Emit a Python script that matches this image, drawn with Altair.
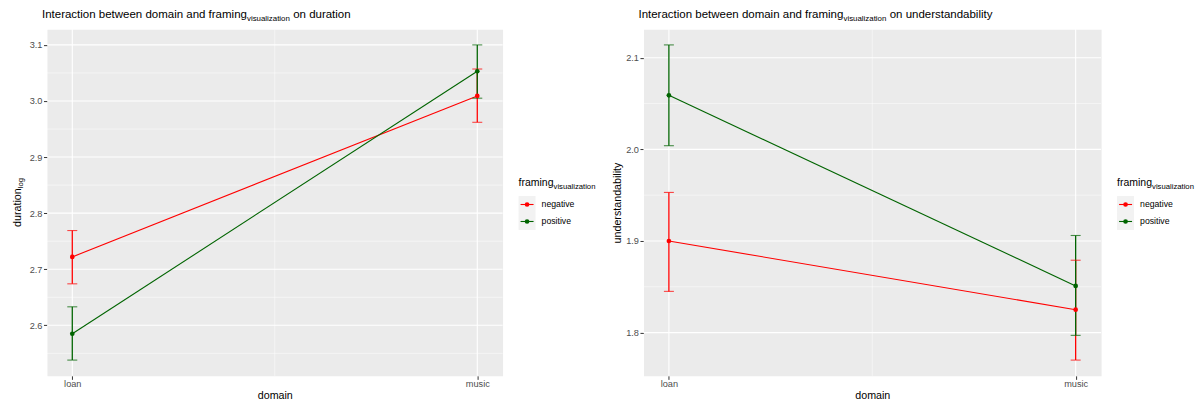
import altair as alt
import pandas as pd

# ---------------- data ----------------
domains = ["loan", "music"]
framings = ["negative", "positive"]
framing_colors = ["#FF0000", "#006400"]

dur_neg_mean = [2.722, 3.009]
dur_neg_low = [2.674, 2.962]
dur_neg_high = [2.769, 3.057]
dur_pos_mean = [2.585, 3.053]
dur_pos_low = [2.538, 3.005]
dur_pos_high = [2.633, 3.100]

und_neg_mean = [1.900, 1.825]
und_neg_low = [1.845, 1.770]
und_neg_high = [1.953, 1.879]
und_pos_mean = [2.059, 1.851]
und_pos_low = [2.004, 1.797]
und_pos_high = [2.114, 1.906]

dur_major = [2.6, 2.7, 2.8, 2.9, 3.0, 3.1]
dur_minor = [2.55, 2.65, 2.75, 2.85, 2.95, 3.05]
und_major = [1.8, 1.9, 2.0, 2.1]
und_minor = [1.85, 1.95, 2.05]
x_major = [1, 2]
x_minor = [1.5]

# ---------------- style ----------------
FONT = "Liberation Sans"
PANEL_H = 347
W1, W2 = 456, 458
TITLE_SIZE, SUB_TITLE = 11.5, 7.9
AX_TITLE, TICK_SIZE = 10.7, 9.2
LEG_TITLE, LEG_SUB, LEG_LABEL = 10.5, 7.7, 8.7

ARIAL = {" ": 278, "a": 556, "b": 556, "c": 500, "d": 556, "e": 556, "f": 278,
         "g": 556, "h": 556, "i": 222, "j": 222, "k": 500, "l": 222, "m": 833,
         "n": 556, "o": 556, "p": 556, "q": 556, "r": 333, "s": 500, "t": 278,
         "u": 556, "v": 500, "w": 722, "x": 500, "y": 500, "z": 500, "I": 278}


def tw(s, size):
    return sum(ARIAL.get(c, 556) for c in s) / 1000.0 * size


def txt(s, size, x, y, angle=0):
    kw = dict(align="left", baseline="alphabetic", font=FONT, fontSize=size,
              color="black", x=x, y=y)
    if angle:
        kw["angle"] = angle
    return alt.Chart(pd.DataFrame({"t": [s]})).mark_text(**kw).encode(text="t:N")


def sub_text(main, sub, size, subsize, x, y, tail=None, dy=3.0):
    layers = [txt(main, size, x, y)]
    x2 = x + tw(main, size)
    layers.append(txt(sub, subsize, x2, y + dy))
    if tail:
        x3 = x2 + tw(sub, subsize) + tw(" ", size)
        layers.append(txt(tail, size, x3, y))
    return layers


color = alt.Color("framing:N", scale=alt.Scale(domain=framings, range=framing_colors),
                  legend=None)

label_expr = "[" + ",".join("'%s'" % d for d in domains) + "][datum.value - 1]"


def axis_common(**kw):
    base = dict(grid=False, domain=False, tickColor="#333333", tickSize=3.5, tickWidth=1,
                labelColor="#4D4D4D", labelFontSize=TICK_SIZE, labelFont=FONT,
                titleFontSize=AX_TITLE, titleFont=FONT, titleFontWeight="normal",
                titleColor="black")
    base.update(kw)
    return alt.Axis(**base)


def panel(neg, pos, ymajor, yminor, tail, width, ytitle):
    rows = []
    for f, (m, lo, hi) in zip(framings, [neg, pos]):
        for i, d in enumerate(domains):
            rows.append(dict(domain=d, xpos=i + 1, framing=f, mean=m[i], low=lo[i], high=hi[i]))
    df = pd.DataFrame(rows)
    lo_all = min(df["low"])
    hi_all = max(df["high"])
    ext = (hi_all - lo_all) * 0.05
    yscale = alt.Scale(domain=[lo_all - ext, hi_all + ext], nice=False, zero=False)
    xscale = alt.Scale(domain=[0.9375, 2.0625], nice=False, zero=False)

    xaxis = axis_common(values=x_major, labelExpr=label_expr, title="domain",
                        labelPadding=0.5, titlePadding=1.8)
    yaxis = axis_common(values=ymajor, format=".1f", title=ytitle if ytitle else "",
                        labelPadding=1.5, titlePadding=3)

    def X(f):
        return alt.X(f, scale=xscale, axis=xaxis)

    def Y(f):
        return alt.Y(f, scale=yscale, axis=yaxis)

    hmaj = alt.Chart(pd.DataFrame({"v": ymajor})).mark_rule(color="white", strokeWidth=1.1).encode(y=Y("v:Q"))
    hmin = alt.Chart(pd.DataFrame({"v": yminor})).mark_rule(color="white", strokeWidth=0.5).encode(y=Y("v:Q"))
    vmaj = alt.Chart(pd.DataFrame({"v": x_major})).mark_rule(color="white", strokeWidth=1.1).encode(x=X("v:Q"))
    vmin = alt.Chart(pd.DataFrame({"v": x_minor})).mark_rule(color="white", strokeWidth=0.5).encode(x=X("v:Q"))

    base = alt.Chart(df)
    line = base.mark_line(strokeWidth=1.1).encode(x=X("xpos:Q"), y=Y("mean:Q"), color=color,
                                                  order="xpos:Q")
    err = base.mark_rule(strokeWidth=1.3).encode(x=X("xpos:Q"), y=Y("low:Q"), y2="high:Q", color=color)
    cap_lo = base.mark_tick(orient="horizontal", size=10, thickness=1.1).encode(
        x=X("xpos:Q"), y=Y("low:Q"), color=color)
    cap_hi = base.mark_tick(orient="horizontal", size=10, thickness=1.1).encode(
        x=X("xpos:Q"), y=Y("high:Q"), color=color)
    pts = base.mark_point(filled=True, size=22, opacity=1).encode(
        x=X("xpos:Q"), y=Y("mean:Q"), color=color)

    layers = [hmin, vmin, hmaj, vmaj, line, err, cap_lo, cap_hi, pts]
    layers += sub_text("Interaction between domain and framing", "visualization",
                       TITLE_SIZE, SUB_TITLE, -5, -11.5, tail=tail)
    if not ytitle:
        # rotated "duration" with subscript "log"
        main_w = tw("duration", AX_TITLE)
        sub_w = tw("log", 7.7)
        start = PANEL_H / 2 + (main_w + sub_w) / 2
        layers.append(txt("duration", AX_TITLE, -26, start, angle=270))
        layers.append(txt("log", 7.7, -23.5, start - main_w, angle=270))
    return alt.layer(*layers).properties(
        width=width, height=PANEL_H,
        view=alt.ViewBackground(fill="#EBEBEB", stroke="transparent"))


def legend(width):
    ldf = pd.DataFrame({"framing": framings, "label": framings})
    yleg = alt.Y("framing:N", scale=alt.Scale(domain=framings, range=[167, 201],
                                               paddingInner=0, paddingOuter=0), axis=None)
    b = alt.Chart(ldf)
    bg = b.mark_rect(color="#F2F2F2").encode(y=yleg, x=alt.value(0), x2=alt.value(17))
    seg = b.mark_rule(strokeWidth=1.1).encode(y=yleg, x=alt.value(2), x2=alt.value(15), color=color)
    dot = b.mark_point(filled=True, size=22, opacity=1).encode(y=yleg, x=alt.value(8.5), color=color)
    lab = b.mark_text(align="left", baseline="middle", font=FONT, fontSize=LEG_LABEL,
                      color="black").encode(y=yleg, x=alt.value(23), text="label:N")
    layers = [bg, seg, dot, lab] + sub_text("framing", "visualization", LEG_TITLE, LEG_SUB, 0, 157)
    return alt.layer(*layers).properties(
        width=width, height=PANEL_H,
        view=alt.ViewBackground(stroke="transparent"))


p1 = panel((dur_neg_mean, dur_neg_low, dur_neg_high), (dur_pos_mean, dur_pos_low, dur_pos_high),
           dur_major, dur_minor, "on duration", W1, None)
p2 = panel((und_neg_mean, und_neg_low, und_neg_high), (und_pos_mean, und_pos_low, und_pos_high),
           und_major, und_minor, "on understandability", W2, "understandability")

chart = alt.hconcat(p1, legend(109), p2, legend(60), spacing=16, bounds="flush").properties(
    padding={"left": 3, "top": 0, "right": 0, "bottom": 0},
    background="white",
).configure_view(stroke="transparent").configure(font=FONT)

chart.save("out.html", embed_options={"renderer": "svg", "actions": False})
